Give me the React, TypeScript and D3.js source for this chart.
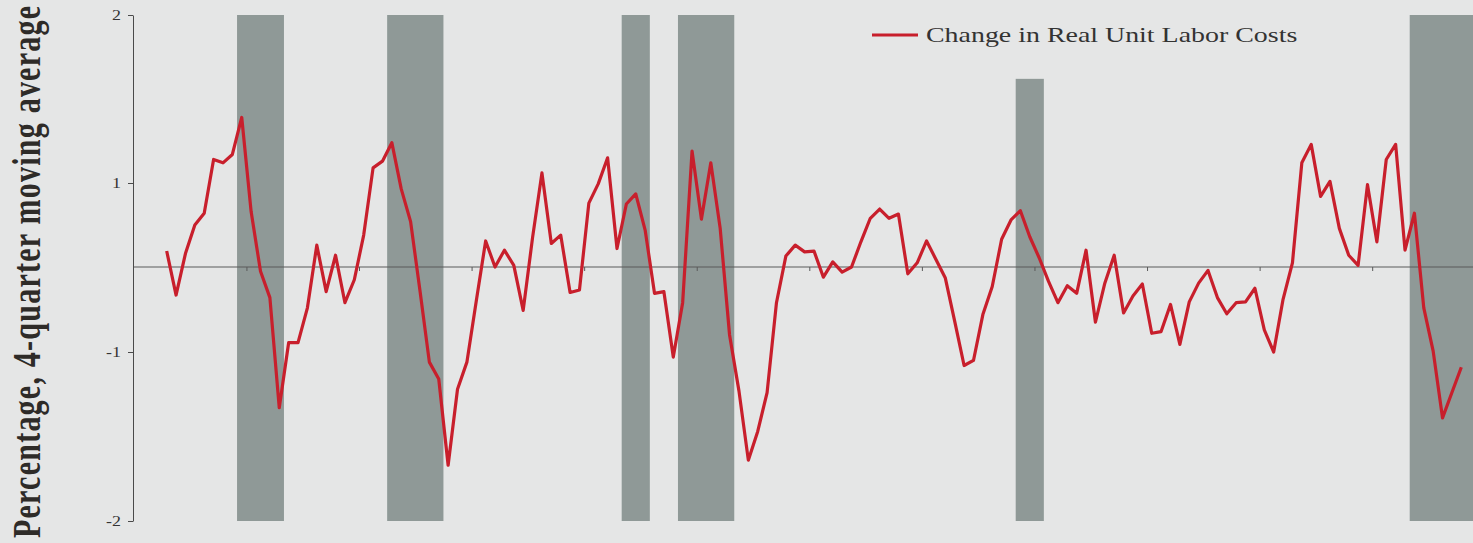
import React, { useEffect, useRef } from 'react';
import * as d3 from 'd3';

const WIDTH = 1473;
const HEIGHT = 543;

// quarterly series, first value is 1967Q4
const FIRST_YEAR = 1967;
const FIRST_QUARTER = 4;
const ulcChange = [
  0.19, -0.33, 0.16, 0.5, 0.64, 1.14, 1.12, 1.17, 1.39, 0.66,
  -0.05, -0.36, -1.33, -0.89, -0.89, -0.48, 0.26, -0.29, 0.14, -0.42,
  -0.15, 0.38, 1.09, 1.13, 1.24, 0.93, 0.54, -0.28, -1.06, -1.16,
  -1.67, -1.22, -1.06, -0.4, 0.31, 0.0, 0.2, 0.02, -0.51, 0.35,
  1.06, 0.28, 0.38, -0.3, -0.27, 0.76, 0.99, 1.15, 0.22, 0.75,
  0.87, 0.44, -0.31, -0.29, -1.03, -0.42, 1.19, 0.57, 1.12, 0.46,
  -0.8, -1.23, -1.64, -1.47, -1.24, -0.42, 0.13, 0.26, 0.18, 0.19,
  -0.12, 0.06, -0.06, 0.0, 0.3, 0.58, 0.69, 0.58, 0.63, -0.08,
  0.05, 0.31, 0.09, -0.13, -0.64, -1.08, -1.05, -0.56, -0.23, 0.33,
  0.56, 0.67, 0.36, 0.11, -0.17, -0.42, -0.22, -0.31, 0.2, -0.65,
  -0.19, 0.14, -0.54, -0.34, -0.2, -0.78, -0.76, -0.44, -0.91, -0.41,
  -0.19, -0.04, -0.36, -0.55, -0.42, -0.41, -0.25, -0.74, -1.0, -0.38,
  0.05, 1.12, 1.23, 0.84, 1.01, 0.46, 0.14, 0.02, 0.98, 0.3,
  1.14, 1.23, 0.2, 0.64, -0.48, -0.99, -1.39, -1.24, -1.09,
];

// recession shading (years), with the top of each shaded column
const recessionStart = [1969.75, 1973.75, 1980.0, 1981.5, 1990.5, 2001.0];
const recessionEnd = [1971.0, 1975.25, 1980.75, 1983.0, 1991.25, 2002.75];
const recessionTop = [2, 2, 2, 2, 1.62, 2];

const yTicks = [2, 1, -1, -2];
const xTickYears = [1970, 1973, 1976, 1979, 1982, 1985, 1988, 1991, 1994, 1997, 2000];

const legendLabel = 'Change in Real Unit Labor Costs';
const yLabel = 'Percentage, 4-quarter moving average';

const SERIF = "'Liberation Serif', 'Times New Roman', serif";
const STRETCH = 1.28;

const App = () => {
  const ref = useRef<SVGSVGElement>(null);

  const draw = () => {
    const svg = d3.select(ref.current);
    svg.selectAll('*').remove();

    const startYear = FIRST_YEAR + (FIRST_QUARTER - 1) / 4;
    const endYear = startYear + ulcChange.length / 4;
    const x = d3.scaleLinear().domain([startYear, endYear]).range([162, 1466]);
    // the original axis is not evenly spaced between its ticks
    const y = d3
      .scaleLinear()
      .domain([-2, -1, 0, 1, 2])
      .range([521, 352, 267, 183, 15]);

    svg
      .append('rect')
      .attr('width', WIDTH)
      .attr('height', HEIGHT)
      .attr('fill', '#e5e6e6');

    svg
      .append('g')
      .selectAll('rect')
      .data(recessionStart)
      .join('rect')
      .attr('x', (d) => x(d))
      .attr('width', (d, i) => x(recessionEnd[i]) - x(d))
      .attr('y', (d, i) => y(recessionTop[i]))
      .attr('height', (d, i) => y(-2) - y(recessionTop[i]))
      .attr('fill', '#8f9997');

    // zero line
    svg
      .append('line')
      .attr('x1', 133)
      .attr('x2', WIDTH)
      .attr('y1', y(0))
      .attr('y2', y(0))
      .attr('stroke', '#5a5a5a')
      .attr('stroke-width', 1.2);

    const xAxis = svg
      .append('g')
      .attr('transform', `translate(0,${y(0)})`)
      .call(
        d3
          .axisBottom(x)
          .tickValues(xTickYears)
          .tickSize(4)
          .tickFormat(() => '')
      );
    xAxis.select('.domain').remove();
    xAxis.selectAll('line').attr('stroke', '#5a5a5a');

    const yAxis = svg
      .append('g')
      .attr('transform', 'translate(133,0)')
      .call(
        d3
          .axisLeft(y)
          .tickValues(yTicks)
          .tickSize(5)
          .tickSizeOuter(0)
          .tickFormat((d) => String(d))
      );
    yAxis.select('.domain').attr('stroke', '#4a4a4a');
    yAxis.selectAll('line').attr('stroke', '#4a4a4a');
    yAxis
      .selectAll('text')
      .attr('x', -12 / STRETCH)
      .attr('transform', `scale(${STRETCH},1)`)
      .attr('font-family', SERIF)
      .attr('font-size', 14)
      .attr('fill', '#333');

    const line = d3
      .line<number>()
      .x((d, i) => x(startYear + i / 4 + 0.125))
      .y((d) => y(d));

    svg
      .append('path')
      .datum(ulcChange)
      .attr('fill', 'none')
      .attr('stroke', '#c81f2c')
      .attr('stroke-width', 3.2)
      .attr('stroke-linejoin', 'round')
      .attr('d', line);

    // legend
    svg
      .append('line')
      .attr('x1', 872)
      .attr('x2', 918)
      .attr('y1', 35)
      .attr('y2', 35)
      .attr('stroke', '#c81f2c')
      .attr('stroke-width', 3);
    svg
      .append('text')
      .attr('transform', `translate(926,42) scale(1.33,1)`)
      .attr('font-family', SERIF)
      .attr('font-size', 21)
      .attr('fill', '#333')
      .text(legendLabel);

    svg
      .append('text')
      .attr('transform', `translate(40,272) scale(1.35,1) rotate(-90)`)
      .attr('text-anchor', 'middle')
      .attr('font-family', SERIF)
      .attr('font-weight', 'bold')
      .attr('font-size', 30)
      .attr('textLength', 532)
      .attr('lengthAdjust', 'spacing')
      .attr('fill', '#2e2b28')
      .text(yLabel);
  };

  useEffect(() => draw(), []);

  return (
    <svg
      ref={ref}
      width={WIDTH}
      height={HEIGHT}
      style={{ position: 'absolute', left: 0, top: 0 }}
    ></svg>
  );
};

export default App;
